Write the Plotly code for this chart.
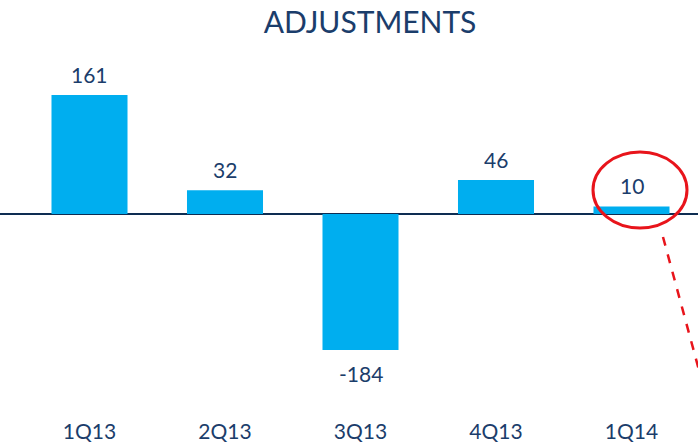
import plotly.graph_objects as go

# ---- data ----
categories = ["1Q13", "2Q13", "3Q13", "4Q13", "1Q14"]
adjustments = [161, 32, -184, 46, 10]
title_text = "ADJUSTMENTS"

# ---- layout geometry (pixels) ----
W, H = 698, 445
top_px, bottom_px = 50, 417
zero_px = 214
px_per_unit = 0.739
first_center = 89.5
spacing = 135.5

navy = "#1B3D6B"
bar_color = "#00AEEF"
red = "#E8141B"
font_family = "Lato, 'Open Sans', sans-serif"

x_idx = list(range(len(categories)))
xr = [-first_center / spacing, (W - first_center) / spacing]
yr = [-(bottom_px - zero_px) / px_per_unit, (zero_px - top_px) / px_per_unit]


def px_to_x(px):
    return (px - first_center) / spacing


def py_to_y(py):
    return (zero_px - py) / px_per_unit


fig = go.Figure()
fig.add_trace(go.Bar(
    x=x_idx, y=adjustments, width=0.561,
    marker=dict(color=bar_color, line=dict(width=0)),
    hoverinfo="skip",
))

annotations = []
for i, v in zip(x_idx, adjustments):
    annotations.append(dict(
        x=i, y=v, xref="x", yref="y", text=str(v), showarrow=False,
        yshift=21 if v >= 0 else -24, yanchor="middle",
        font=dict(size=21, color=navy, family=font_family),
    ))

shapes = [
    dict(type="circle", xref="x", yref="y",
         x0=px_to_x(593), x1=px_to_x(687), y0=py_to_y(228), y1=py_to_y(152),
         line=dict(color=red, width=3)),
    dict(type="line", xref="x", yref="y",
         x0=px_to_x(663), y0=py_to_y(237), x1=px_to_x(703), y1=py_to_y(385),
         line=dict(color=red, width=2.5, dash="dash")),
]

fig.update_layout(
    width=W, height=H,
    margin=dict(l=0, r=0, t=top_px, b=H - bottom_px, pad=0),
    paper_bgcolor="white", plot_bgcolor="white",
    showlegend=False,
    title=dict(text=title_text, x=370 / W, xanchor="center", y=1 - 22 / H, yanchor="middle",
               font=dict(size=30, color=navy, family=font_family)),
    xaxis=dict(range=xr, tickvals=x_idx, ticktext=categories, showgrid=False,
               zeroline=False, showline=False, ticks="",
               tickfont=dict(size=21, color=navy, family=font_family)),
    yaxis=dict(range=yr, showgrid=False, showticklabels=False, ticks="",
               zeroline=True, zerolinecolor="#0E2D52", zerolinewidth=2, showline=False),
    annotations=annotations,
    shapes=shapes,
)

fig.write_html("out.html", config={"displayModeBar": False},
               post_script="document.body.style.margin='0';document.body.style.overflow='hidden';")
